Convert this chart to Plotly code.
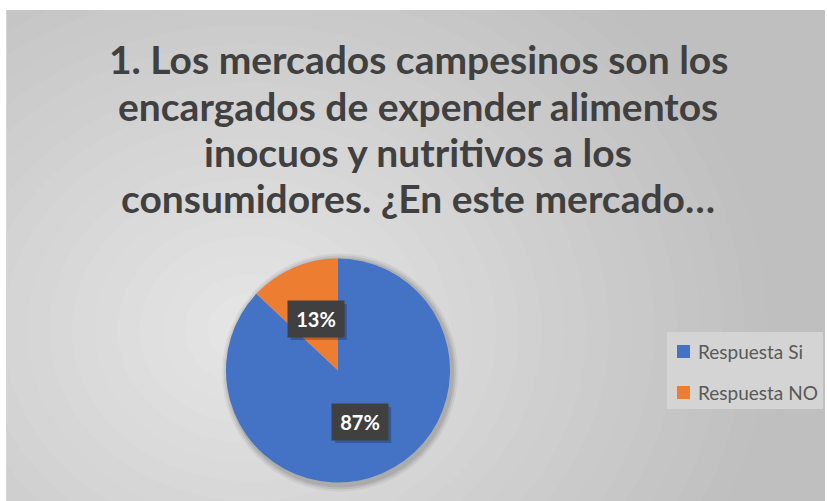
import math
import plotly.graph_objects as go

# data
labels = ["Respuesta Si", "Respuesta NO"]
values = [87, 13]
colors = ["#4472C4", "#ED7D31"]
title_lines = [
    "1. Los mercados campesinos son los",
    "encargados de expender alimentos",
    "inocuos y nutritivos a los",
    "consumidores. ¿En este mercado…",
]

W, H = 827, 501
FONT = "Lato"

# pie placement (pixels)
cx, cy, R = 338, 370.5, 112


def px(x):
    return x / W


def py(y):
    return 1 - y / H


fig = go.Figure()
fig.add_trace(go.Pie(
    labels=labels, values=values, sort=False, direction="clockwise", rotation=0,
    marker=dict(colors=colors, line=dict(width=0)),
    textinfo="none", hoverinfo="label+percent", showlegend=False,
    domain=dict(x=[px(cx - R), px(cx + R)], y=[py(cy + R), py(cy - R)]),
))

shapes = []
# background with a soft radial gradient
shapes.append(dict(type="rect", xref="paper", yref="paper", x0=0, x1=1, y0=0, y1=1,
                   fillcolor="#bfbfbf", line=dict(width=0), layer="below"))
gx, gy = 250, 330
steps = 24
for i in range(steps):
    t = i / (steps - 1)
    r = 520 * (1 - t) + 20
    c = int(0xbf + (0xe6 - 0xbf) * t)
    col = "rgb(%d,%d,%d)" % (c, c, c)
    shapes.append(dict(type="circle", xref="paper", yref="paper",
                       x0=px(gx - r), x1=px(gx + r), y0=py(gy + r * 0.85), y1=py(gy - r * 0.85),
                       fillcolor=col, line=dict(width=0), layer="below"))
# white frame outside chart area
for x0, x1, y0, y1 in [(0, 6, 0, 501), (825, 827, 0, 501), (0, 827, 0, 10)]:
    shapes.append(dict(type="rect", xref="paper", yref="paper", x0=px(x0), x1=px(x1),
                       y0=py(y1), y1=py(y0), fillcolor="white", line=dict(width=0), layer="below"))
shapes.append(dict(type="line", xref="paper", yref="paper", x0=px(6.5), x1=px(6.5), y0=0, y1=py(10),
                   line=dict(color="#d6d6d6", width=1), layer="below"))
# soft shadow behind pie
for k, a in [(6, 0.05), (4, 0.07), (2, 0.09)]:
    shapes.append(dict(type="circle", xref="paper", yref="paper",
                       x0=px(cx - R - k + 2), x1=px(cx + R + k + 2), y0=py(cy + R + k + 3), y1=py(cy - R - k + 1),
                       fillcolor="rgba(0,0,0,%s)" % a, line=dict(width=0), layer="below"))

# legend box
lx0, lx1, ly0, ly1 = 667, 823, 332, 409
shapes.append(dict(type="rect", xref="paper", yref="paper", x0=px(lx0), x1=px(lx1), y0=py(ly1), y1=py(ly0),
                   fillcolor="#d4d4d4", line=dict(width=0), layer="above"))

annotations = []
for i, (lab, col) in enumerate(zip(labels, colors)):
    yc = 351.5 + i * 41
    shapes.append(dict(type="rect", xref="paper", yref="paper", x0=px(677), x1=px(690),
                       y0=py(yc + 6.5), y1=py(yc - 6.5), fillcolor=col, line=dict(width=0), layer="above"))
    annotations.append(dict(text=lab, x=px(696), y=py(yc), xref="paper", yref="paper",
                            xanchor="left", yanchor="middle", showarrow=False,
                            font=dict(family=FONT, size=19, color="#595959")))

# title lines
for i, line in enumerate(title_lines):
    annotations.append(dict(text="<b>%s</b>" % line, x=px(418), y=py(59 + i * 46.5), xref="paper", yref="paper",
                            xanchor="center", yanchor="middle", showarrow=False,
                            font=dict(family=FONT, size=39, color="#404040")))

# data labels at half radius of each slice
total = sum(values)
cum = 0
for v in values:
    mid = (cum + v / 2) / total * 2 * math.pi
    cum += v
    lxp = cx + 0.5 * R * math.sin(mid)
    lyp = cy - 0.5 * R * math.cos(mid)
    pct = "%d%%" % round(v / total * 100)
    shapes.append(dict(type="rect", xref="paper", yref="paper",
                       x0=px(lxp - 28 + 3), x1=px(lxp + 28 + 3), y0=py(lyp + 18 + 3), y1=py(lyp - 18 + 3),
                       fillcolor="rgba(0,0,0,0.22)", line=dict(width=0), layer="above"))
    annotations.append(dict(text="<b>%s</b>" % pct, x=px(lxp), y=py(lyp), xref="paper", yref="paper",
                            xanchor="center", yanchor="middle",
                            showarrow=False, bgcolor="#404040", width=48, height=28, borderpad=4,
                            font=dict(family=FONT, size=20, color="white")))

fig.update_layout(
    width=W, height=H, margin=dict(l=0, r=0, t=0, b=0),
    paper_bgcolor="white", plot_bgcolor="white",
    shapes=shapes, annotations=annotations, showlegend=False,
)

# drop the default page margin so the figure fills the window
fig.write_html("out.html", config={"displayModeBar": False},
               post_script="document.body.style.margin='0';document.body.style.overflow='hidden';")
